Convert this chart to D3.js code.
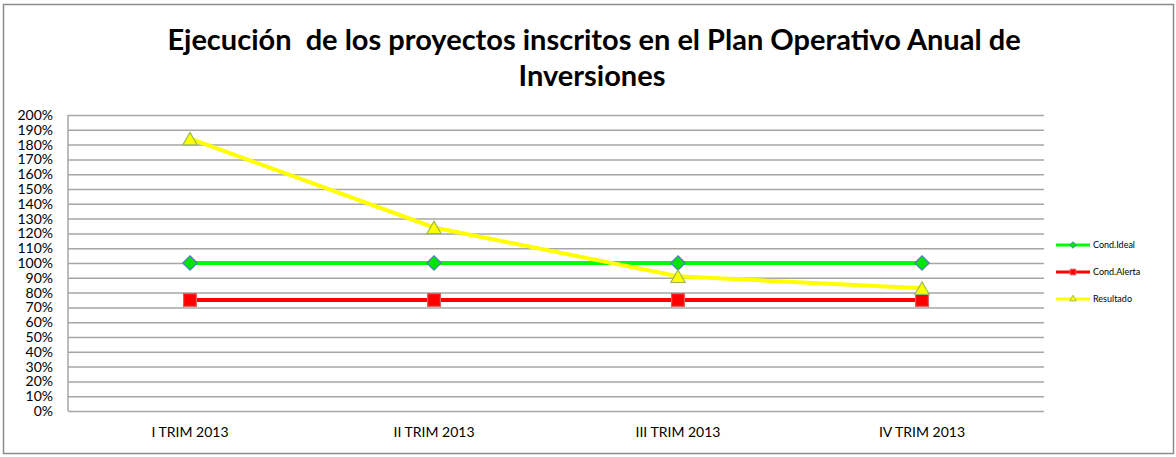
<!DOCTYPE html>
<html>
<head>
<meta charset="utf-8">
<script src="https://cdn.jsdelivr.net/npm/d3@7"></script>
<style>
  body { margin: 0; background: #fff; }
  text { font-family: Lato, "Open Sans", sans-serif; }
</style>
</head>
<body>
<div id="chart"></div>
<script>
// data
var categories = ["I TRIM 2013", "II TRIM 2013", "III TRIM 2013", "IV TRIM 2013"];
var condIdeal = [100, 100, 100, 100];
var condAlerta = [75, 75, 75, 75];
var resultado = [184, 124, 91, 83];
var yTicks = [0, 10, 20, 30, 40, 50, 60, 70, 80, 90, 100, 110, 120, 130, 140, 150, 160, 170, 180, 190, 200];
var titleLines = ["Ejecución  de los proyectos inscritos en el Plan Operativo Anual de", "Inversiones"];

var width = 1176, height = 457;
var margin = { top: 115, right: 132, bottom: 46, left: 68 };

var svg = d3.select("#chart")
  .append("svg")
  .attr("width", width)
  .attr("height", height);

// outer chart border
svg.append("rect")
  .attr("x", 3.5).attr("y", 4.5)
  .attr("width", 1170).attr("height", 449)
  .style("fill", "none")
  .style("stroke", "#8c8c8c")
  .style("stroke-width", 1.5);

// title (keep the double space)
var title = svg.append("text")
  .attr("text-anchor", "middle")
  .style("white-space", "pre")
  .style("font-weight", "bold")
  .style("font-size", "29px")
  .style("fill", "#000");
title.append("tspan").attr("x", 594).attr("y", 50).text(titleLines[0]);
title.append("tspan").attr("x", 592).attr("y", 86).text(titleLines[1]);

// scales
var xScale = d3.scaleBand()
  .domain(categories)
  .range([margin.left, width - margin.right]);

var yScale = d3.scaleLinear()
  .domain([0, 200])
  .range([height - margin.bottom, margin.top]);

// horizontal gridlines
svg.append("g")
  .attr("class", "y grid")
  .attr("transform", "translate(" + margin.left + ",0)")
  .call(d3.axisLeft(yScale)
    .tickValues(yTicks)
    .tickSize(-(width - margin.right - margin.left))
    .tickFormat(""))
  .call(function(g) { g.select(".domain").remove(); })
  .selectAll("line")
  .style("stroke", "#a6a6a6")
  .style("stroke-width", 1.5);

// left edge of plot area
svg.append("line")
  .attr("x1", margin.left).attr("x2", margin.left)
  .attr("y1", yScale(200)).attr("y2", yScale(0))
  .style("stroke", "#a6a6a6")
  .style("stroke-width", 1.5);

// y axis labels
svg.append("g")
  .attr("class", "y axis")
  .attr("transform", "translate(53,0)")
  .call(d3.axisLeft(yScale)
    .tickValues(yTicks)
    .tickSize(0)
    .tickPadding(0)
    .tickFormat(function(d) { return d + "%"; }))
  .call(function(g) { g.select(".domain").remove(); })
  .selectAll("text")
  .style("font-size", "14px")
  .style("fill", "#000");

// x axis labels
svg.append("g")
  .attr("class", "x axis")
  .attr("transform", "translate(0," + (height - margin.bottom) + ")")
  .call(d3.axisBottom(xScale).tickSize(0).tickPadding(16))
  .call(function(g) { g.select(".domain").remove(); })
  .selectAll("text")
  .style("font-size", "14px")
  .style("fill", "#000");

var series = [
  { name: "Cond.Ideal", values: condIdeal, color: "#00ff00", marker: "diamond", fill: "#00e600", stroke: "#4f81bd" },
  { name: "Cond.Alerta", values: condAlerta, color: "#ff0000", marker: "square", fill: "#ff0000", stroke: "#e06060" },
  { name: "Resultado", values: resultado, color: "#ffff00", marker: "triangle", fill: "#ffff00", stroke: "#9bbb59" }
];

var line = d3.line()
  .x(function(d, i) { return xScale(categories[i]) + xScale.bandwidth() / 2; })
  .y(function(d) { return yScale(d); });

function markerPath(type, s) {
  if (type == "diamond") return d3.symbol().type(d3.symbolDiamond2).size(s * 0.9)();
  if (type == "square") return d3.symbol().type(d3.symbolSquare).size(s * 1.1)();
  return d3.symbol().type(d3.symbolTriangle).size(s * 0.6)();
}

// draw lines
series.forEach(function(s) {
  svg.append("path")
    .datum(s.values)
    .attr("d", line)
    .style("fill", "none")
    .style("stroke", s.color)
    .style("stroke-width", 4);
});

// draw markers
series.forEach(function(s) {
  svg.selectAll(".m-" + s.marker)
    .data(s.values)
    .enter()
    .append("path")
    .attr("class", "m-" + s.marker)
    .attr("transform", function(d, i) {
      var dy = s.marker == "triangle" ? 2 : 0;
      return "translate(" + (xScale(categories[i]) + xScale.bandwidth() / 2) + "," + (yScale(d) + dy) + ")";
    })
    .attr("d", markerPath(s.marker, 150))
    .style("fill", s.fill)
    .style("stroke", s.stroke)
    .style("stroke-width", 1.2);
});

// legend
var legend = svg.append("g").attr("class", "legend");
series.forEach(function(s, i) {
  var y = 245 + i * 27;
  legend.append("line")
    .attr("x1", 1056).attr("x2", 1090)
    .attr("y1", y).attr("y2", y)
    .style("stroke", s.color)
    .style("stroke-width", 3);
  legend.append("path")
    .attr("transform", "translate(1073," + y + ")")
    .attr("d", markerPath(s.marker, 30))
    .style("fill", s.fill)
    .style("stroke", s.stroke)
    .style("stroke-width", 1);
  legend.append("text")
    .attr("x", 1093)
    .attr("y", y)
    .attr("dy", "0.35em")
    .style("font-size", "9px")
    .style("fill", "#000")
    .text(s.name);
});
</script>
</body>
</html>
